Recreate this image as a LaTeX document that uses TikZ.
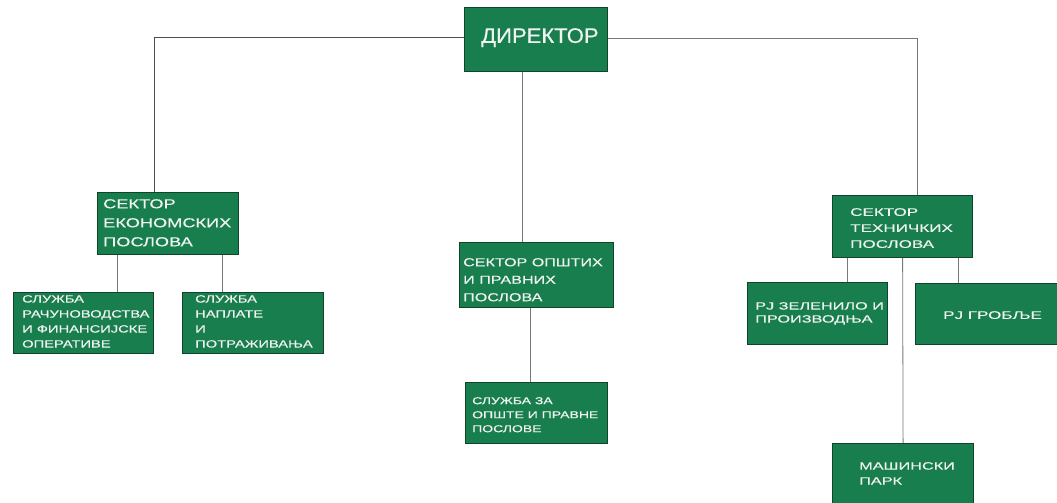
\documentclass[tikz,border=0pt]{standalone}
\usepackage{fontspec}
\newfontfamily\wA[FakeStretch=1.4,FakeBold=0.4]{Liberation Sans}
\newfontfamily\wB[FakeStretch=1.55,FakeBold=0.4]{Liberation Sans}
\newfontfamily\wD[FakeStretch=1.05,FakeBold=0.3]{Liberation Sans}
\definecolor{boxgreen}{RGB}{24,126,78}
\definecolor{boxedge}{RGB}{14,70,42}
\definecolor{txtwhite}{RGB}{240,244,240}
\definecolor{linegray}{RGB}{120,120,120}
\tikzset{
  box/.style={draw=boxedge, line width=1.2pt, fill=boxgreen, anchor=north west, inner sep=0pt},
  lbl/.style={anchor=north west, inner sep=0pt, align=left, text=txtwhite},
  conn/.style={draw=linegray, line width=0.8pt},
}
\begin{document}
\begin{tikzpicture}[x=1pt,y=-1pt]
\useasboundingbox (0,0) rectangle (1057,503);
% boxes
\node[box, minimum width=143pt, minimum height=64pt] (dir) at (464,7) {};
\node[box, minimum width=141pt, minimum height=62pt] (econ) at (97,192) {};
\node[box, minimum width=140pt, minimum height=61pt] (rac) at (13,292) {};
\node[box, minimum width=141pt, minimum height=61pt] (nap) at (182,292) {};
\node[box, minimum width=154pt, minimum height=65pt] (opst) at (459,242) {};
\node[box, minimum width=142pt, minimum height=61pt] (szo) at (465,382) {};
\node[box, minimum width=140pt, minimum height=62pt] (tech) at (832,195) {};
\node[box, minimum width=140pt, minimum height=62pt] (zel) at (747,282) {};
\node[box, minimum width=150pt, minimum height=61pt] (grob) at (915,283) {};
\node[box, minimum width=141pt, minimum height=70pt] (mas) at (832,443) {};
% labels
\node[lbl, font=\wD\fontsize{21}{24}\selectfont] (dirT) at (481,28) {ДИРЕКТОР};
\node[lbl, font=\wA\fontsize{13}{19}\selectfont] (econT) at (103,199) {СЕКТОР\\ЕКОНОМСКИХ\\ПОСЛОВА};
\node[lbl, font=\wA\fontsize{10.5}{15}\selectfont] (racT) at (22,295) {СЛУЖБА\\РАЧУНОВОДСТВА\\И ФИНАНСИЈСКЕ\\ОПЕРАТИВЕ};
\node[lbl, font=\wA\fontsize{10.5}{15}\selectfont] (napT) at (195,295) {СЛУЖБА\\НАПЛАТЕ\\И\\ПОТРАЖИВАЊА};
\node[lbl, font=\wA\fontsize{11.5}{17.5}\selectfont] (opstT) at (463,258) {СЕКТОР ОПШТИХ\\И ПРАВНИХ\\ПОСЛОВА};
\node[lbl, font=\wA\fontsize{10}{14}\selectfont] (szoT) at (472,397) {СЛУЖБА ЗА\\ОПШТЕ И ПРАВНЕ\\ПОСЛОВЕ};
\node[lbl, font=\wB\fontsize{11}{16}\selectfont] (techT) at (850,208) {СЕКТОР\\ТЕХНИЧКИХ\\ПОСЛОВА};
\node[lbl, font=\wB\fontsize{10.5}{13}\selectfont] (zelT) at (755,302) {PJ ЗЕЛЕНИЛО И\\ПРОИЗВОДЊА};
\node[lbl, font=\wB\fontsize{11}{14}\selectfont] (grobT) at (943,311) {PJ ГРОБЉЕ};
\node[lbl, font=\wB\fontsize{10.5}{15}\selectfont] (masT) at (859,462) {МАШИНСКИ\\ПАРК};
% connectors
\draw[conn, draw=black!70] ([yshift=2pt]dir.west) -| ([xshift=57pt]econ.north west);
\draw[conn] ([yshift=1pt]dir.east) -| ([xshift=85pt]tech.north west);
\draw[conn] ([xshift=58pt]dir.south west) coordinate (d1) -- (d1 |- opst.north);
\draw[conn] ([xshift=20pt]econ.south west) coordinate (e1) -- (e1 |- rac.north);
\draw[conn] ([xshift=125pt]econ.south west) coordinate (e2) -- (e2 |- nap.north);
\draw[conn] ([xshift=71pt]opst.south west) coordinate (o1) -- (o1 |- szo.north);
\draw[conn] ([xshift=15pt]tech.south west) coordinate (t1) -- (t1 |- zel.north);
\draw[conn] ([xshift=126pt]tech.south west) coordinate (t2) -- (t2 |- grob.north);
\draw[conn] (tech.south) -- (mas.north);
\end{tikzpicture}
\end{document}
